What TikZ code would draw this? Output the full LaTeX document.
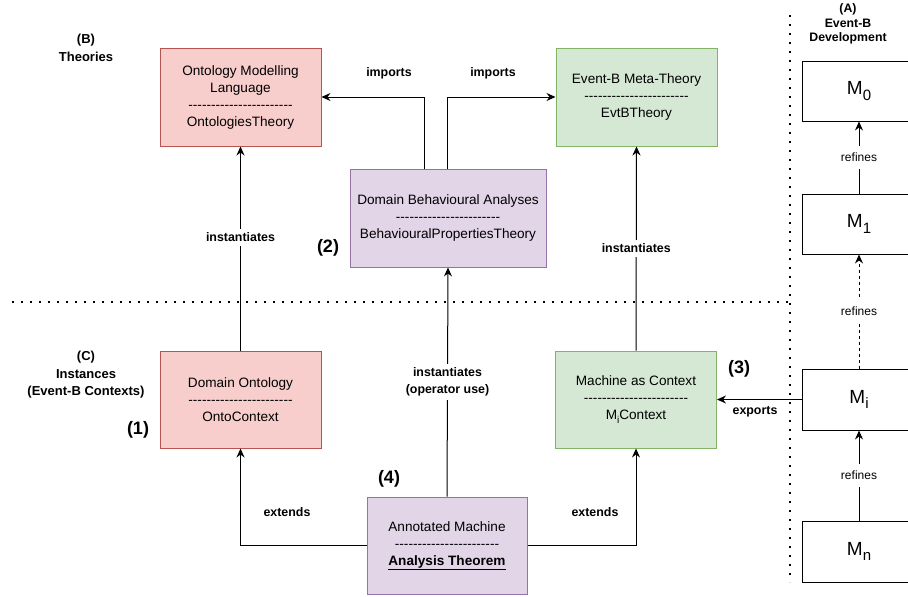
\documentclass[tikz,border=0pt]{standalone}
\usepackage{fontspec}
\setmainfont{Liberation Sans}
\usetikzlibrary{arrows.meta}

\definecolor{rfill}{HTML}{F8CECC}
\definecolor{rline}{HTML}{B85450}
\definecolor{gfill}{HTML}{D5E8D4}
\definecolor{gline}{HTML}{82B366}
\definecolor{pfill}{HTML}{E1D5E7}
\definecolor{pline}{HTML}{9673A6}

% a row of separate hyphens (kept apart so they are not joined into dashes)
\newcommand\hyrow{\foreach\k in {1,...,23}{-}}
% machine name with a lowered index
\newcommand\mname[1]{M\raisebox{-0.3em}{\fontsize{15}{15}\selectfont #1}}
\newcommand\subidx[1]{\raisebox{-0.25em}{\fontsize{10}{10}\selectfont #1}}

\begin{document}
\begin{tikzpicture}[x=1pt,y=-1pt,
  box/.style={draw, line width=1pt, align=center, inner sep=0pt,
    font=\fontsize{13.6}{17}\selectfont},
  redbox/.style={box, fill=rfill, draw=rline, minimum width=161pt, minimum height=98pt},
  greenbox/.style={box, fill=gfill, draw=gline, minimum width=161pt, minimum height=98pt},
  purplebox/.style={box, fill=pfill, draw=pline, minimum height=98pt},
  mbox/.style={draw=black, line width=1pt, fill=white, minimum width=114pt,
    minimum height=61pt, inner sep=0pt, font=\fontsize{19}{19}\selectfont},
  conn/.style={draw=black, line width=1pt, -{Stealth[length=9pt,width=8pt,inset=3pt]}},
  lab/.style={font=\bfseries\fontsize{12.4}{17}\selectfont, inner sep=1pt, align=center},
  onlab/.style={lab, fill=white, inner ysep=4pt},
  reflab/.style={font=\fontsize{12}{14}\selectfont, fill=white, inner xsep=1pt, inner ysep=7pt},
  sec/.style={font=\bfseries\fontsize{13}{17.5}\selectfont, align=center},
  num/.style={font=\bfseries\fontsize{18}{20}\selectfont},
  sep/.style={line width=2pt, dash pattern=on 2pt off 7pt}
]
\useasboundingbox (0,0) rectangle (908,597);

% separators between the three areas
\draw[sep] (12,302) -- (790,302);
\draw[sep] (790,15) -- (790,582);

% theories
\node[redbox] (oml) at (240.5,97) {Ontology Modelling\\Language\\\hyrow\\OntologiesTheory};
\node[purplebox, minimum width=196pt] (dba) at (448,218)
  {Domain Behavioural Analyses\\\hyrow\\BehaviouralPropertiesTheory};
\node[greenbox] (ebmt) at (636.5,97) {Event-B Meta-Theory\\\hyrow\\EvtBTheory};

% instances
\node[redbox, minimum height=97pt] (do) at (240.5,399.5) {Domain Ontology\\\hyrow\\OntoContext};
\node[greenbox, minimum height=97pt] (mac) at (636,399.5)
  {Machine as Context\\\hyrow\\M\subidx{i}Context};
\node[purplebox, minimum width=160pt, minimum height=97pt] (am) at (447,545.5)
  {Annotated Machine\\\hyrow\\\underline{\textbf{Analysis Theorem}}};

% Event-B development
\node[mbox, minimum height=60pt] (m0) at (859,91) {\mname{0}};
\node[mbox, minimum height=60pt] (m1) at (859,224) {\mname{1}};
\node[mbox] (mi) at (859,399.5) {\mname{i}};
\node[mbox] (mn) at (859,551.5) {\mname{n}};

% area titles and markers
\node[sec] (tb) at (86,48) {(B)\\Theories};
\node[sec] (tc) at (86,375) {(C)\\Instances\\(Event-B Contexts)};
\node[sec, font=\bfseries\fontsize{12.3}{14.5}\selectfont] (ta) at (848,24) {(A)\\Event-B\\Development};
\node[num] (n1) at (138,430) {(1)};
\node[num] (n2) at (328,248) {(2)};
\node[num] (n3) at (739,369) {(3)};
\node[num] (n4) at (389,479) {(4)};

% imports
\draw[conn] ([xshift=-24pt]dba.north) |- (oml.east);
\draw[conn] ([xshift=-1pt]dba.north) |- (ebmt.west);
\node[lab] (li1) at (389,73) {imports};
\node[lab] (li2) at (493,73) {imports};

% instantiates
\draw[conn] (do.north) -- (oml.south) node[onlab, pos=0.556] {instantiates};
\draw[conn] (mac.north) -- (ebmt.south) node[onlab, pos=0.5] {instantiates};
\draw[conn] (am.north) -- (dba.south) node[onlab, pos=0.5] {instantiates\\(operator use)};

% extends
\draw[conn] (am.west) -| (do.south);
\draw[conn] (am.east) -| (mac.south);
\node[lab] (le1) at (287,512) {extends};
\node[lab] (le2) at (595,512) {extends};

% exports
\draw[conn] (mi.west) -- (mac.east);
\node[lab] (lx) at (755,412) {exports};

% refinement chain
\draw[conn] (m1.north) -- (m0.south) node[reflab, midway] {refines};
\draw[conn, dash pattern=on 3pt off 3pt] (mi.north) -- (m1.south) node[reflab, midway] {refines};
\draw[conn] (mn.north) -- (mi.south) node[reflab, midway] {refines};
\end{tikzpicture}
\end{document}
